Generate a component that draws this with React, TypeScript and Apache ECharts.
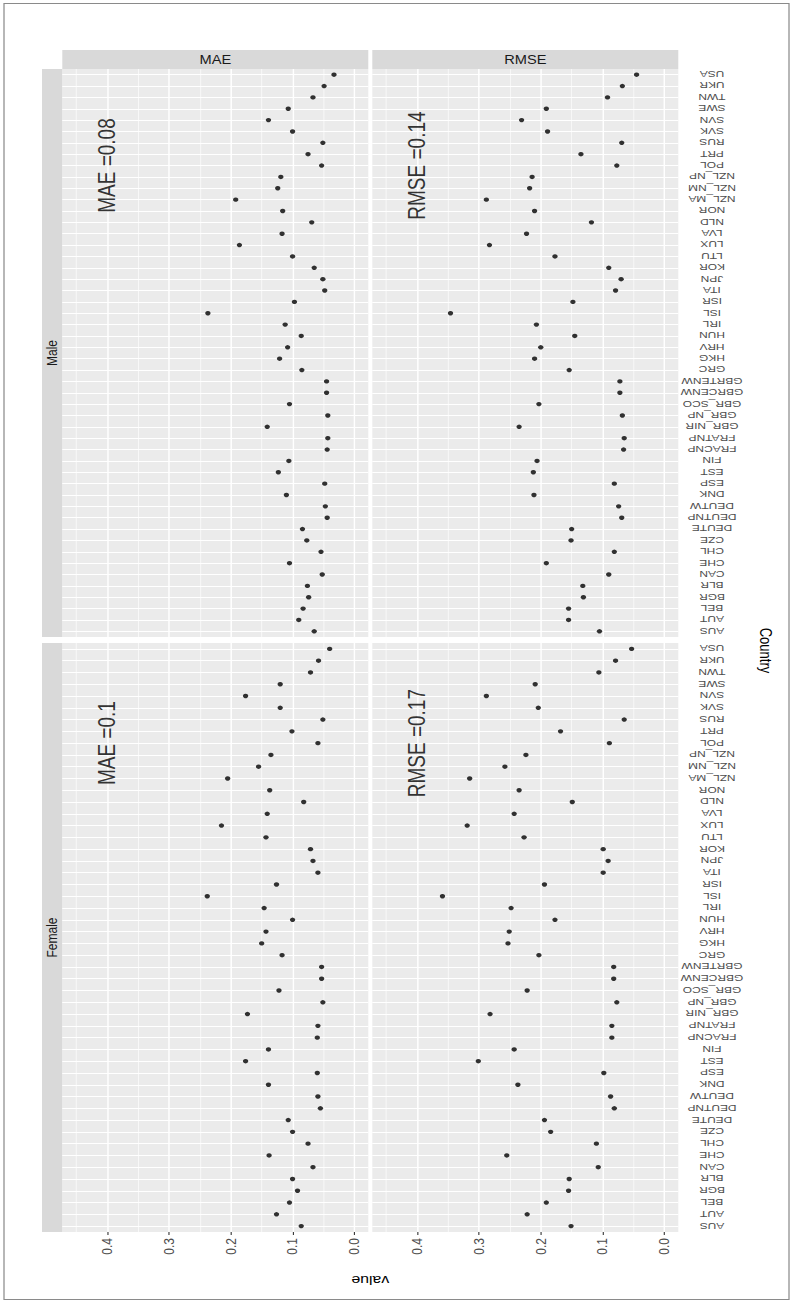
import React, { useEffect, useRef } from "react";
import * as echarts from "echarts";

// Countries, listed from the bottom row of each panel to the top row
const countries = [
  "AUS", "AUT", "BEL", "BGR", "BLR", "CAN", "CHE", "CHL", "CZE", "DEUTE",
  "DEUTNP", "DEUTW", "DNK", "ESP", "EST", "FIN", "FRACNP", "FRATNP", "GBR_NIR", "GBR_NP",
  "GBR_SCO", "GBRCENW", "GBRTENW", "GRC", "HKG", "HRV", "HUN", "IRL", "ISL", "ISR",
  "ITA", "JPN", "KOR", "LTU", "LUX", "LVA", "NLD", "NOR", "NZL_MA", "NZL_NM",
  "NZL_NP", "POL", "PRT", "RUS", "SVK", "SVN", "SWE", "TWN", "UKR", "USA",
];

const maleMAE = [
  0.065, 0.090, 0.083, 0.074, 0.076, 0.052, 0.105, 0.054, 0.077, 0.084,
  0.044, 0.047, 0.110, 0.048, 0.123, 0.106, 0.044, 0.043, 0.141, 0.043,
  0.105, 0.045, 0.045, 0.085, 0.121, 0.108, 0.086, 0.112, 0.237, 0.097,
  0.048, 0.051, 0.065, 0.100, 0.186, 0.117, 0.069, 0.116, 0.192, 0.124,
  0.119, 0.053, 0.075, 0.051, 0.100, 0.139, 0.107, 0.067, 0.049, 0.033,
];

const maleRMSE = [
  0.105, 0.155, 0.155, 0.131, 0.132, 0.090, 0.191, 0.081, 0.151, 0.150,
  0.069, 0.074, 0.211, 0.081, 0.212, 0.206, 0.066, 0.065, 0.235, 0.068,
  0.203, 0.072, 0.072, 0.154, 0.210, 0.200, 0.145, 0.207, 0.346, 0.148,
  0.079, 0.070, 0.090, 0.177, 0.283, 0.223, 0.118, 0.210, 0.288, 0.218,
  0.214, 0.077, 0.135, 0.069, 0.189, 0.231, 0.191, 0.092, 0.068, 0.045,
];

const femaleMAE = [
  0.086, 0.126, 0.105, 0.092, 0.100, 0.067, 0.138, 0.075, 0.100, 0.107,
  0.055, 0.059, 0.139, 0.060, 0.176, 0.139, 0.060, 0.059, 0.173, 0.051,
  0.122, 0.053, 0.053, 0.117, 0.150, 0.143, 0.100, 0.146, 0.238, 0.126,
  0.059, 0.067, 0.071, 0.143, 0.215, 0.141, 0.082, 0.137, 0.205, 0.155,
  0.135, 0.059, 0.101, 0.051, 0.120, 0.176, 0.120, 0.071, 0.058, 0.040,
];

const femaleRMSE = [
  0.151, 0.222, 0.191, 0.155, 0.154, 0.107, 0.255, 0.110, 0.184, 0.194,
  0.081, 0.087, 0.237, 0.098, 0.301, 0.243, 0.085, 0.085, 0.282, 0.077,
  0.222, 0.082, 0.082, 0.203, 0.253, 0.251, 0.177, 0.248, 0.359, 0.194,
  0.099, 0.091, 0.099, 0.227, 0.319, 0.243, 0.149, 0.235, 0.315, 0.258,
  0.224, 0.089, 0.168, 0.065, 0.204, 0.288, 0.209, 0.106, 0.079, 0.053,
];

const measures = ["MAE", "RMSE"];
const sexes = ["Male", "Female"];
const summaryLabels = [
  ["MAE =0.08", "RMSE =0.14"],
  ["MAE =0.1", "RMSE =0.17"],
];
const summaryValue = 0.4;
const summaryCountry = "POL";

const valueTicks = [0, 0.1, 0.2, 0.3, 0.4];
const minorBreaks = [0.05, 0.15, 0.25, 0.35, 0.45];
const valueMin = -0.0225;
const valueMax = 0.4725;

const panelValues = [
  [maleMAE, maleRMSE],
  [femaleMAE, femaleRMSE],
];

// Page geometry: the drawing is laid out in a narrower frame and widened by SX
const SX = 1.22;
const PAGE_W = 793;
const PAGE_H = 1301;
const colX = [
  [62.3, 368.3],
  [372.3, 678.3],
];
const rowY = [
  [69, 637],
  [643, 1232],
];
const STRIP_TOP = 50;
const STRIP_LEFT = 42;
const FONT = '"Liberation Sans", Arial, Helvetica, sans-serif';
const AXIS_TEXT = "#4D4D4D";
const PANEL_BG = "#EBEBEB";
const STRIP_BG = "#D9D9D9";

const sx = (x: number) => x / SX;

export default function App() {
  const ref = useRef<HTMLDivElement>(null);

  useEffect(() => {
    if (!ref.current) return;
    const chart = echarts.init(ref.current, null, { renderer: "svg" });

    const grid: any[] = [];
    const xAxis: any[] = [];
    const yAxis: any[] = [];
    const series: any[] = [];
    const graphic: any[] = [];

    let k = 0;
    rowY.forEach(([top, bottom], r) => {
      colX.forEach(([left, right], c) => {
        const isBottom = r === rowY.length - 1;
        const isRight = c === colX.length - 1;
        grid.push({
          left: sx(left),
          top,
          width: sx(right - left),
          height: bottom - top,
          show: true,
          backgroundColor: PANEL_BG,
          borderWidth: 0,
        });
        xAxis.push({
          gridIndex: k,
          type: "value",
          inverse: true,
          min: valueMin,
          max: valueMax,
          position: "bottom",
          splitLine: { show: false },
          axisLine: { show: false },
          axisTick: {
            show: isBottom,
            length: 3,
            customValues: valueTicks,
            lineStyle: { color: "#333333", width: 0.9 },
          },
          axisLabel: {
            show: isBottom,
            customValues: valueTicks,
            rotate: 90,
            margin: 6,
            color: AXIS_TEXT,
            fontSize: 12,
            fontFamily: FONT,
            formatter: (v: number) => v.toFixed(1),
          },
        });
        yAxis.push({
          gridIndex: k,
          type: "category",
          data: countries,
          position: "right",
          boundaryGap: true,
          splitLine: { show: false },
          axisLine: { show: false },
          axisTick: {
            show: isRight,
            alignWithLabel: true,
            length: 3,
            lineStyle: { color: "#333333", width: 0.9 },
          },
          axisLabel: {
            show: isRight,
            interval: 0,
            rotate: 180,
            align: "center",
            verticalAlign: "middle",
            margin: sx(712 - 678.3),
            color: AXIS_TEXT,
            fontSize: 9.8,
            fontFamily: FONT,
          },
        });

        // white panel grid lines
        series.push({
          type: "scatter",
          xAxisIndex: k,
          yAxisIndex: k,
          data: [],
          silent: true,
          markLine: {
            silent: true,
            symbol: ["none", "none"],
            label: { show: false },
            z: 1,
            data: [
              ...countries.map((_, i) => ({
                yAxis: i,
                lineStyle: { color: "#FFFFFF", width: 1.1, type: "solid" },
              })),
              ...minorBreaks.map((v) => ({
                xAxis: v,
                lineStyle: { color: "#FFFFFF", width: 0.6, type: "solid" },
              })),
              ...valueTicks.map((v) => ({
                xAxis: v,
                lineStyle: { color: "#FFFFFF", width: 1.2, type: "solid" },
              })),
            ],
          },
        });

        // country points
        series.push({
          type: "scatter",
          xAxisIndex: k,
          yAxisIndex: k,
          z: 10,
          symbol: "circle",
          symbolSize: 4.4,
          itemStyle: { color: "#000000" },
          data: panelValues[r][c].map((v, i) => [v, countries[i]]),
        });

        // summary text
        series.push({
          type: "scatter",
          xAxisIndex: k,
          yAxisIndex: k,
          z: 11,
          symbolSize: 0.1,
          itemStyle: { color: "rgba(0,0,0,0)" },
          label: {
            show: true,
            position: "inside",
            rotate: 90,
            formatter: summaryLabels[r][c],
            color: "#000000",
            fontSize: 19,
            fontFamily: FONT,
          },
          data: [[summaryValue, summaryCountry]],
        });
        k++;
      });
    });

    // facet strips across the top
    colX.forEach(([left, right], c) => {
      graphic.push({
        type: "rect",
        shape: { x: sx(left), y: STRIP_TOP, width: sx(right - left), height: rowY[0][0] - STRIP_TOP },
        style: { fill: STRIP_BG },
        silent: true,
      });
      graphic.push({
        type: "text",
        x: sx((left + right) / 2),
        y: (STRIP_TOP + rowY[0][0]) / 2,
        style: {
          text: measures[c],
          fill: "#1A1A1A",
          fontSize: 12,
          fontFamily: FONT,
          align: "center",
          verticalAlign: "middle",
          textAlign: "center",
          textVerticalAlign: "middle",
        },
        silent: true,
      });
    });

    // facet strips down the left side
    rowY.forEach(([top, bottom], r) => {
      graphic.push({
        type: "rect",
        shape: { x: sx(STRIP_LEFT), y: top, width: sx(colX[0][0] - STRIP_LEFT), height: bottom - top },
        style: { fill: STRIP_BG },
        silent: true,
      });
      graphic.push({
        type: "text",
        x: sx((STRIP_LEFT + colX[0][0]) / 2),
        y: (top + bottom) / 2,
        rotation: Math.PI / 2,
        style: {
          text: sexes[r],
          fill: "#1A1A1A",
          fontSize: 12,
          fontFamily: FONT,
          align: "center",
          verticalAlign: "middle",
          textAlign: "center",
          textVerticalAlign: "middle",
        },
        silent: true,
      });
    });

    // axis titles
    graphic.push({
      type: "text",
      x: sx(765),
      y: (rowY[0][0] + rowY[1][1]) / 2,
      rotation: -Math.PI / 2,
      style: {
        text: "Country",
        fill: "#000000",
        fontSize: 13,
        fontFamily: FONT,
        align: "center",
        verticalAlign: "middle",
        textAlign: "center",
        textVerticalAlign: "middle",
      },
      silent: true,
    });
    graphic.push({
      type: "text",
      x: sx((colX[0][0] + colX[1][1]) / 2),
      y: 1280,
      rotation: Math.PI,
      style: {
        text: "value",
        fill: "#000000",
        fontSize: 13,
        fontFamily: FONT,
        align: "center",
        verticalAlign: "middle",
        textAlign: "center",
        textVerticalAlign: "middle",
      },
      silent: true,
    });

    // thin frame around the figure
    graphic.push({
      type: "rect",
      shape: { x: sx(4), y: 3.5, width: sx(785), height: 1296 },
      style: { fill: "none", stroke: "#8A8A8A", lineWidth: 1 },
      silent: true,
      z: -1,
    });

    chart.setOption({
      animation: false,
      backgroundColor: "#FFFFFF",
      textStyle: { fontFamily: FONT },
      grid,
      xAxis,
      yAxis,
      series,
      graphic,
    });

    return () => {
      chart.dispose();
    };
  }, []);

  return (
    <div
      style={{
        position: "absolute",
        left: 0,
        top: 0,
        width: PAGE_W,
        height: PAGE_H,
        overflow: "hidden",
        background: "#FFFFFF",
      }}
    >
      <div
        ref={ref}
        style={{
          width: PAGE_W / SX,
          height: PAGE_H,
          transform: `scaleX(${SX})`,
          transformOrigin: "0 0",
        }}
      />
    </div>
  );
}
